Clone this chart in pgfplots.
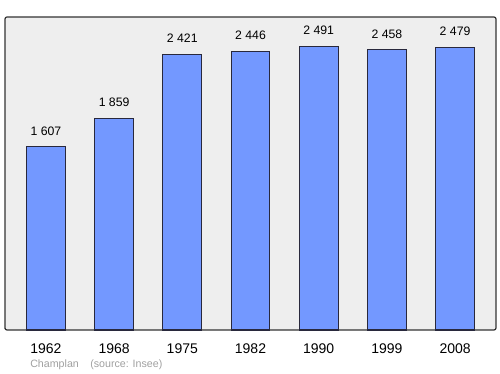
\documentclass[border=0pt]{standalone}
\usepackage{pgfplots}
\pgfplotsset{compat=1.18}
\usepackage{fontspec}
\setmainfont{Liberation Sans}
\definecolor{bgc}{RGB}{238,238,238}
\definecolor{barc}{RGB}{115,152,255}
\definecolor{barline}{RGB}{40,40,60}
\definecolor{foot}{RGB}{160,160,160}
\begin{document}
\begin{tikzpicture}
\useasboundingbox (0pt,0pt) rectangle (375pt,280.5pt);
\begin{axis}[
  at={(3.75pt,33pt)}, anchor=south west,
  scale only axis, width=368.25pt, height=234.75pt,
  xmin=-0.6, xmax=6.6, ymin=0, ymax=2746,
  axis background/.style={fill=bgc},
  axis line style={draw=black!80, line width=0.9pt, rounded corners=1.5pt},
  ytick=\empty,
  xtick={0,...,6},
  xticklabels={1962,1968,1975,1982,1990,1999,2008},
  major tick length=0pt,
  xticklabel style={font=\fontsize{10.5}{12}\selectfont, yshift=-6.5pt},
  clip=false,
]
\addplot[ybar, bar width=0.57, fill=barc, draw=barline, line width=0.8pt,
  nodes near coords, point meta=explicit symbolic,
  every node near coord/.append style={font=\fontsize{9.2}{11}\selectfont, anchor=south, yshift=5pt, text=black}]
coordinates {
(0,1607) [1 607]
(1,1859) [1 859]
(2,2421) [2 421]
(3,2446) [2 446]
(4,2491) [2 491]
(5,2458) [2 458]
(6,2479) [2 479]
};
\end{axis}
\node[anchor=base west, text=foot, font=\fontsize{8}{10}\selectfont, inner sep=0] at (22.5pt,5pt) {Champlan};
\node[anchor=base west, text=foot, font=\fontsize{8}{10}\selectfont, inner sep=0] at (67.5pt,5pt) {(source: Insee)};
\end{tikzpicture}
\end{document}
